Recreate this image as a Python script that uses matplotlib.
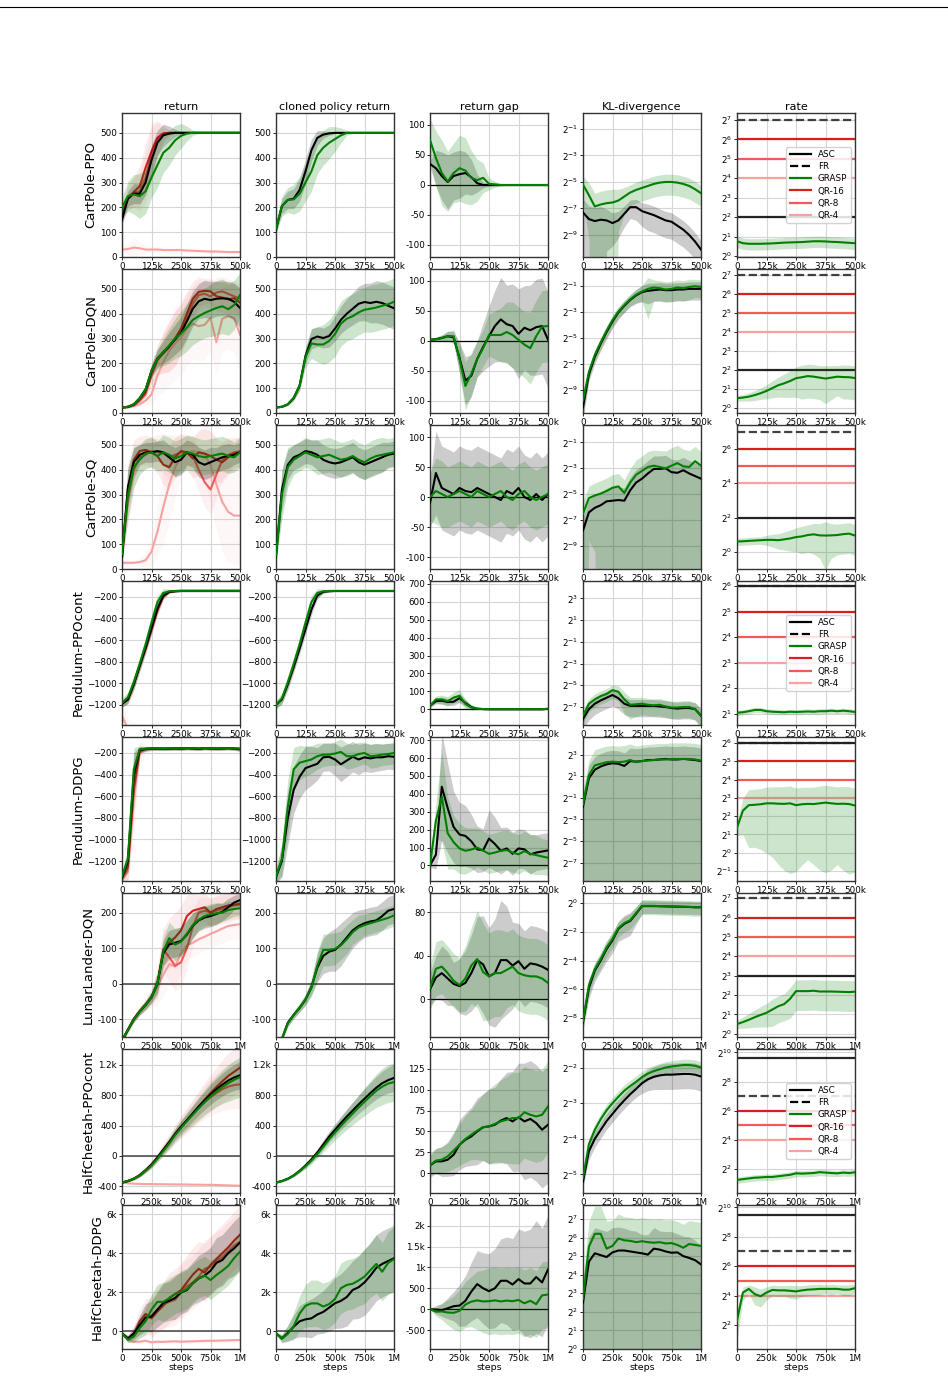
import matplotlib.pyplot as plt
import numpy as np
from matplotlib.lines import Line2D
from matplotlib.ticker import NullLocator

# ---------------- data ----------------
steps_500k = np.linspace(0, 500_000, 21)
steps_1m = np.linspace(0, 1_000_000, 21)
xticks_500k = [0, 125_000, 250_000, 375_000, 500_000]
xlabels_500k = ['0', '125k', '250k', '375k', '500k']
xticks_1m = [0, 250_000, 500_000, 750_000, 1_000_000]
xlabels_1m = ['0', '250k', '500k', '750k', '1M']

col_titles = ['return', 'cloned policy return', 'return gap', 'KL-divergence', 'rate']
env_names = ['CartPole-PPO', 'CartPole-DQN', 'CartPole-SQ', 'Pendulum-PPOcont',
             'Pendulum-DDPG', 'LunarLander-DQN', 'HalfCheetah-PPOcont', 'HalfCheetah-DDPG']
methods = ['ASC', 'FR', 'GRASP', 'QR-16', 'QR-8', 'QR-4']

# tick values / labels
ret_ticks_cp = [0, 100, 200, 300, 400, 500]
ret_labels_cp = ['0', '100', '200', '300', '400', '500']
gap_ticks_cp = [-100, -50, 0, 50, 100]
gap_labels_cp = ['-100', '-50', '0', '50', '100']
ret_ticks_pend = [-1200, -1000, -800, -600, -400, -200]
ret_labels_pend = ['\u22121200', '\u22121000', '\u2212800', '\u2212600', '\u2212400', '\u2212200']
gap_ticks_pend = [0, 100, 200, 300, 400, 500, 600, 700]
gap_labels_pend = ['0', '100', '200', '300', '400', '500', '600', '700']
ret_ticks_lunar = [-100, 0, 100, 200]
ret_labels_lunar = ['-100', '0', '100', '200']
gap_ticks_lunar = [0, 40, 80]
gap_labels_lunar = ['0', '40', '80']
ret_ticks_hcppo = [-400, 0, 400, 800, 1200]
ret_labels_hcppo = ['-400', '0', '400', '800', '1.2k']
gap_ticks_hcppo = [0, 25, 50, 75, 100, 125]
gap_labels_hcppo = ['0', '25', '50', '75', '100', '125']
ret_ticks_hcddpg = [0, 2000, 4000, 6000]
ret_labels_hcddpg = ['0', '2k', '4k', '6k']
gap_ticks_hcddpg = [-500, 0, 500, 1000, 1500, 2000]
gap_labels_hcddpg = ['-500', '0', '500', '1k', '1.5k', '2k']

# KL / rate tick exponents (log2)
kl_ticks_cp = [-9, -7, -5, -3, -1]
kl_ticks_pend = [-7, -5, -3, -1, 1, 3]
kl_ticks_lunar = [-8, -6, -4, -2, 0]
kl_ticks_hcppo = [-5, -4, -3, -2]
kl_ticks_hcddpg = [0, 1, 2, 3, 4, 5, 6, 7]
rate_ticks_0_7 = [0, 1, 2, 3, 4, 5, 6, 7]
rate_ticks_even = [0, 2, 4, 6]
rate_ticks_pend = [1, 2, 3, 4, 5, 6]
rate_ticks_ddpg = [-1, 0, 1, 2, 3, 4, 5, 6]
rate_ticks_hc = [2, 4, 6, 8, 10]

# ---- CartPole-PPO
ppo_ret_asc = [150, 235, 255, 255, 300, 390, 460, 490, 497, 500, 500, 500, 500, 500, 500, 500, 500, 500, 500, 500, 500]
ppo_ret_asc_sd = [20, 30, 40, 40, 50, 60, 50, 45, 30, 15, 5, 0, 0, 0, 0, 0, 0, 0, 0, 0, 0]
ppo_ret_grasp = [200, 245, 252, 245, 265, 320, 370, 420, 440, 470, 488, 497, 500, 500, 500, 500, 500, 500, 500, 500, 500]
ppo_ret_grasp_sd = [40, 60, 80, 90, 90, 80, 90, 80, 70, 60, 50, 30, 10, 3, 0, 0, 0, 0, 0, 0, 0]
ppo_ret_qr16 = [175, 240, 262, 285, 360, 425, 480, 498, 500, 500, 500, 500, 500, 500, 500, 500, 500, 500, 500, 500, 500]
ppo_ret_qr8 = [160, 235, 258, 265, 320, 410, 470, 495, 500, 500, 500, 500, 500, 500, 500, 500, 500, 500, 500, 500, 500]
ppo_ret_qr_sd = [30, 50, 60, 80, 100, 110, 70, 30, 10, 0, 0, 0, 0, 0, 0, 0, 0, 0, 0, 0, 0]
ppo_ret_qr4 = [30, 32, 38, 35, 30, 30, 30, 28, 28, 28, 28, 26, 25, 24, 23, 22, 22, 21, 20, 20, 20]
ppo_ret_qr4_sd = [10, 20, 40, 25, 15, 12, 12, 12, 12, 12, 10, 10, 10, 8, 8, 8, 8, 8, 8, 8, 8]
ppo_clone_asc = [110, 205, 230, 235, 270, 345, 430, 480, 493, 498, 500, 500, 500, 500, 500, 500, 500, 500, 500, 500, 500]
ppo_clone_asc_sd = [15, 30, 35, 40, 45, 50, 45, 30, 15, 8, 3, 0, 0, 0, 0, 0, 0, 0, 0, 0, 0]
ppo_clone_grasp = [115, 205, 230, 232, 255, 300, 345, 410, 440, 460, 475, 490, 500, 500, 500, 500, 500, 500, 500, 500, 500]
ppo_clone_grasp_sd = [20, 40, 50, 60, 70, 75, 80, 75, 70, 65, 50, 30, 10, 3, 0, 0, 0, 0, 0, 0, 0]
ppo_gap_asc = [35, 28, 15, 5, 15, 18, 20, 13, 3, 0, 0, 0, 0, 0, 0, 0, 0, 0, 0, 0, 0]
ppo_gap_asc_sd = [5, 30, 40, 45, 40, 40, 35, 30, 15, 5, 2, 1, 0, 0, 0, 0, 0, 0, 0, 0, 0]
ppo_gap_grasp = [75, 45, 20, 6, 20, 28, 24, 12, 8, 12, 2, 1, 0, 0, 0, 0, 0, 0, 0, 0, 0]
ppo_gap_grasp_sd = [35, 45, 55, 50, 50, 55, 55, 45, 35, 25, 10, 5, 2, 0, 0, 0, 0, 0, 0, 0, 0]
ppo_kl_asc = [-7.3, -7.8, -7.95, -7.85, -7.9, -8.1, -7.9, -7.4, -6.9, -6.9, -7.2, -7.35, -7.5, -7.7, -7.9, -8.0, -8.3, -8.6, -9.0, -9.5, -10.1]
ppo_kl_asc_r = [1.0, 1.0, 1.0, 1.0, 0.8, 0.7, 0.6, 0.5, 0.45, 0.5, 0.55, 0.6, 0.6, 0.6, 0.6, 0.6, 0.6, 0.6, 0.6, 0.6, 0.6]
ppo_kl_grasp = [-5.2, -6.0, -6.85, -6.7, -6.6, -6.55, -6.4, -6.1, -5.8, -5.6, -5.45, -5.3, -5.15, -5.05, -5.0, -5.0, -5.05, -5.15, -5.3, -5.55, -5.85]
ppo_kl_grasp_r = [0.55, 0.9, 1.0, 1.0, 1.0, 1.0, 0.8, 0.6, 0.5, 0.5, 0.5, 0.5, 0.5, 0.5, 0.5, 0.5, 0.5, 0.5, 0.5, 0.5, 0.5]
ppo_rate_grasp = [0.76, 0.66, 0.63, 0.63, 0.63, 0.64, 0.65, 0.67, 0.69, 0.7, 0.71, 0.72, 0.74, 0.76, 0.76, 0.75, 0.73, 0.72, 0.7, 0.68, 0.66]
ppo_rate_grasp_r = [0.2, 0.2, 0.2, 0.2, 0.2, 0.2, 0.2, 0.2, 0.2, 0.2, 0.2, 0.2, 0.2, 0.2, 0.2, 0.2, 0.2, 0.2, 0.2, 0.2, 0.2]
ppo_rate_levels = [2, 7, 6, 5, 4]  # ASC, FR, QR-16, QR-8, QR-4 (log2)

# ---- CartPole-DQN
dqn_ret_asc = [22, 25, 35, 60, 95, 170, 220, 245, 270, 296, 323, 370, 420, 450, 460, 455, 460, 462, 460, 448, 423]
dqn_ret_asc_sd = [3, 4, 6, 10, 15, 25, 35, 45, 55, 60, 65, 70, 70, 70, 75, 75, 70, 70, 70, 75, 80]
dqn_ret_grasp = [22, 25, 35, 60, 95, 170, 218, 245, 272, 300, 320, 345, 375, 390, 403, 413, 423, 430, 418, 435, 475]
dqn_ret_grasp_sd = [3, 4, 6, 10, 15, 25, 40, 55, 70, 80, 90, 95, 100, 100, 100, 105, 110, 110, 105, 100, 90]
dqn_ret_qr16 = [22, 25, 33, 55, 85, 160, 215, 240, 265, 300, 340, 400, 460, 488, 492, 490, 470, 465, 458, 462, 445]
dqn_ret_qr8 = [22, 24, 30, 48, 75, 150, 210, 245, 270, 300, 335, 380, 440, 475, 480, 470, 485, 490, 480, 470, 460]
dqn_ret_qr_sd = [3, 4, 6, 10, 20, 40, 60, 80, 100, 110, 100, 90, 70, 60, 50, 50, 60, 60, 60, 60, 60]
dqn_ret_qr4 = [22, 23, 28, 35, 50, 75, 150, 205, 250, 280, 305, 340, 360, 350, 355, 383, 285, 380, 390, 383, 315]
dqn_ret_qr4_sd = [3, 4, 6, 10, 20, 40, 80, 120, 140, 150, 150, 150, 140, 140, 140, 130, 130, 130, 130, 140, 150]
dqn_clone_asc = [22, 25, 35, 60, 110, 230, 298, 308, 302, 310, 340, 375, 400, 420, 440, 447, 443, 448, 443, 432, 422]
dqn_clone_asc_sd = [2, 3, 5, 10, 20, 30, 40, 40, 40, 45, 50, 55, 60, 65, 70, 75, 80, 85, 85, 85, 85]
dqn_clone_grasp = [22, 25, 35, 62, 110, 225, 280, 276, 276, 290, 318, 360, 380, 390, 405, 416, 420, 425, 432, 438, 448]
dqn_clone_grasp_sd = [2, 3, 5, 10, 20, 40, 60, 70, 80, 85, 90, 90, 90, 90, 90, 90, 95, 95, 95, 95, 95]
dqn_gap_asc = [2, 3, 5, 8, 6, -28, -66, -58, -30, -10, 8, 25, 36, 28, 25, 12, 22, 18, 23, 25, 2]
dqn_gap_asc_sd = [2, 3, 5, 8, 10, 25, 40, 35, 30, 40, 50, 60, 70, 65, 70, 75, 70, 75, 80, 80, 80]
dqn_gap_grasp = [2, 3, 5, 8, 8, -30, -75, -55, -30, -12, 10, 10, 10, 15, 10, 2, -6, -12, 8, 24, 25]
dqn_gap_grasp_sd = [2, 3, 5, 8, 10, 25, 40, 35, 30, 30, 35, 40, 45, 50, 55, 55, 55, 60, 60, 60, 60]
dqn_kl_asc = [-10.3, -7.8, -6.45, -5.45, -4.55, -3.75, -3.05, -2.55, -2.1, -1.75, -1.5, -1.4, -1.35, -1.3, -1.35, -1.35, -1.3, -1.3, -1.25, -1.25, -1.25]
dqn_kl_asc_r = [0.5, 0.3, 0.3, 0.3, 0.3, 0.3, 0.3, 0.3, 0.3, 0.35, 0.4, 0.5, 0.45, 0.45, 0.45, 0.45, 0.45, 0.45, 0.45, 0.45, 0.45]
dqn_kl_grasp = [-9.8, -7.6, -6.3, -5.35, -4.45, -3.65, -3.0, -2.5, -2.05, -1.7, -1.45, -1.25, -1.15, -1.2, -1.3, -1.25, -1.15, -1.2, -1.1, -1.05, -1.1]
dqn_kl_grasp_r = [0.5, 0.3, 0.3, 0.3, 0.3, 0.3, 0.3, 0.3, 0.3, 0.35, 0.4, 0.8, 0.5, 0.5, 0.5, 0.5, 0.5, 0.5, 0.5, 0.45, 0.45]
dqn_rate_grasp = [0.52, 0.55, 0.6, 0.68, 0.78, 0.9, 1.05, 1.2, 1.3, 1.42, 1.57, 1.62, 1.68, 1.65, 1.6, 1.55, 1.6, 1.65, 1.63, 1.62, 1.58]
dqn_rate_grasp_r = [0.1, 0.12, 0.15, 0.18, 0.2, 0.25, 0.3, 0.35, 0.4, 0.45, 0.5, 0.55, 0.55, 0.55, 0.55, 0.6, 0.55, 0.5, 0.55, 0.55, 0.55]
dqn_rate_levels = [2, 7, 6, 5, 4]

# ---- CartPole-SQ
sq_ret_asc = [50, 330, 430, 460, 470, 470, 475, 470, 450, 430, 440, 470, 460, 430, 420, 430, 440, 450, 455, 460, 470]
sq_ret_asc_sd = [20, 80, 60, 40, 40, 40, 40, 50, 50, 60, 60, 50, 50, 60, 60, 60, 50, 50, 50, 40, 40]
sq_ret_grasp = [60, 300, 410, 440, 465, 470, 455, 470, 460, 445, 455, 470, 465, 455, 450, 455, 460, 465, 455, 450, 470]
sq_ret_grasp_sd = [30, 100, 80, 60, 60, 60, 60, 70, 70, 70, 70, 70, 70, 70, 70, 70, 70, 70, 70, 60, 60]
sq_ret_qr16 = [50, 320, 440, 475, 480, 470, 455, 420, 410, 450, 475, 470, 445, 470, 465, 455, 440, 430, 450, 465, 470]
sq_ret_qr8 = [45, 280, 400, 450, 460, 475, 470, 465, 450, 460, 470, 465, 455, 400, 350, 320, 380, 440, 460, 470, 475]
sq_ret_qr_sd = [20, 100, 80, 60, 60, 60, 70, 80, 90, 80, 70, 70, 80, 90, 100, 100, 90, 80, 70, 60, 60]
sq_ret_qr4 = [25, 25, 25, 28, 35, 70, 150, 250, 340, 410, 450, 470, 475, 470, 460, 420, 340, 270, 230, 215, 215]
sq_ret_qr4_sd = [10, 10, 10, 15, 30, 60, 100, 150, 150, 120, 80, 60, 60, 80, 120, 150, 180, 200, 200, 200, 200]
sq_clone_asc = [50, 320, 420, 450, 460, 475, 470, 460, 440, 430, 425, 430, 440, 450, 430, 420, 430, 440, 450, 460, 465]
sq_clone_asc_sd = [20, 80, 60, 50, 50, 50, 50, 60, 60, 60, 60, 60, 60, 60, 60, 60, 60, 60, 60, 50, 50]
sq_clone_grasp = [55, 300, 410, 440, 455, 470, 460, 450, 455, 460, 450, 440, 445, 455, 440, 430, 445, 455, 460, 465, 470]
sq_clone_grasp_sd = [30, 100, 80, 60, 60, 60, 60, 70, 70, 70, 70, 70, 70, 70, 70, 70, 70, 70, 70, 60, 60]
sq_gap_asc = [-10, 40, 15, 10, 5, 15, 10, 8, 15, 10, 5, 0, -5, 10, 5, 15, 0, -5, 5, -5, 5]
sq_gap_asc_sd = [40, 70, 70, 70, 70, 70, 70, 70, 70, 70, 70, 70, 70, 70, 70, 70, 70, 70, 70, 70, 70]
sq_gap_grasp = [0, 10, 5, 0, 5, 10, 5, 0, 10, 5, 0, 5, 10, 0, -5, 5, 10, 0, -5, 0, 5]
sq_gap_grasp_sd = [40, 55, 55, 50, 50, 50, 50, 50, 50, 50, 50, 50, 50, 50, 50, 50, 50, 50, 50, 50, 50]
sq_kl_asc = [-7.8, -6.4, -6.05, -5.85, -5.55, -5.5, -5.45, -5.5, -4.7, -4.1, -3.8, -3.4, -3.05, -3.05, -3.0, -3.3, -3.35, -3.15, -3.4, -3.6, -3.8]
sq_kl_asc_r = [1.0, 1.0, 1.0, 1.0, 1.0, 1.0, 1.0, 1.0, 1.0, 1.0, 1.0, 1.0, 1.0, 1.0, 1.0, 1.0, 1.0, 1.0, 1.0, 1.0, 1.0]
sq_kl_grasp = [-6.5, -5.3, -5.1, -4.95, -4.75, -4.5, -4.4, -4.9, -4.1, -3.5, -3.2, -2.9, -2.8, -2.9, -3.0, -2.8, -2.6, -2.85, -2.9, -2.45, -2.8]
sq_kl_grasp_r = [1.0, 0.9, 0.95, 1.0, 1.0, 1.0, 1.0, 1.0, 1.1, 1.2, 1.2, 1.3, 1.3, 1.4, 1.5, 1.6, 1.6, 1.5, 1.4, 1.2, 1.1]
sq_rate_grasp = [0.62, 0.64, 0.66, 0.68, 0.7, 0.72, 0.72, 0.7, 0.75, 0.8, 0.88, 0.92, 1.0, 1.04, 0.98, 0.97, 0.98, 1.0, 1.05, 1.08, 0.97]
sq_rate_grasp_r = [0.15, 0.15, 0.15, 0.15, 0.15, 0.2, 0.25, 0.3, 0.35, 0.4, 0.45, 0.5, 0.5, 0.55, 0.6, 0.75, 0.6, 0.55, 0.55, 0.55, 0.55]
sq_rate_levels = [2, 7, 6, 5, 4]

# ---- Pendulum-PPOcont
pend_ret_asc = [-1190, -1150, -1010, -840, -670, -490, -310, -190, -155, -150, -148, -148, -148, -148, -148, -148, -148, -148, -148, -148, -148]
pend_ret_asc_sd = [30, 40, 50, 50, 50, 50, 50, 30, 10, 5, 3, 3, 3, 3, 3, 3, 3, 3, 3, 3, 3]
pend_ret_grasp = [-1180, -1130, -990, -820, -640, -440, -250, -165, -150, -147, -146, -146, -146, -146, -146, -146, -146, -146, -146, -146, -146]
pend_ret_grasp_sd = [40, 50, 60, 60, 60, 60, 60, 40, 20, 10, 5, 5, 5, 5, 5, 5, 5, 5, 5, 5, 5]
pend_ret_qr16 = [-1185, -1145, -1000, -830, -680, -500, -320, -195, -155, -148, -145, -145, -145, -145, -145, -145, -145, -145, -145, -145, -145]
pend_ret_qr8 = [-1190, -1150, -1010, -845, -685, -510, -330, -200, -158, -150, -147, -147, -147, -147, -147, -147, -147, -147, -147, -147, -147]
pend_ret_qr_sd = [30, 40, 50, 50, 50, 50, 50, 30, 10, 5, 5, 5, 5, 5, 5, 5, 5, 5, 5, 5, 5]
pend_ret_qr4 = [-1300, -1420, -1460, -1470, -1475, -1480, -1480, -1480, -1480, -1480, -1480, -1480, -1480, -1480, -1480, -1480, -1480, -1480, -1480, -1480, -1480]
pend_ret_qr4_sd = [80, 100, 100, 100, 100, 100, 100, 100, 100, 100, 100, 100, 100, 100, 100, 100, 100, 100, 100, 100, 100]
pend_clone_asc = [-1200, -1150, -1010, -850, -680, -500, -320, -190, -155, -150, -148, -148, -148, -148, -148, -148, -148, -148, -148, -148, -148]
pend_clone_asc_sd = [30, 40, 50, 50, 50, 50, 50, 30, 10, 5, 3, 3, 3, 3, 3, 3, 3, 3, 3, 3, 3]
pend_clone_grasp = [-1200, -1140, -990, -820, -640, -440, -250, -165, -150, -147, -146, -146, -146, -146, -146, -146, -146, -146, -146, -146, -146]
pend_clone_grasp_sd = [40, 50, 60, 60, 60, 60, 60, 40, 20, 10, 5, 5, 5, 5, 5, 5, 5, 5, 5, 5, 5]
pend_gap_asc = [20, 45, 48, 40, 42, 62, 35, 12, 3, 1, 0, 0, 0, 0, 0, 0, 0, 0, 0, 0, 2]
pend_gap_asc_sd = [10, 15, 20, 20, 20, 25, 20, 10, 5, 3, 2, 2, 2, 2, 2, 2, 2, 2, 2, 2, 3]
pend_gap_grasp = [20, 55, 55, 45, 65, 75, 30, 10, 3, 1, 0, 0, 0, 0, 0, 0, 0, 0, 0, 0, 3]
pend_gap_grasp_sd = [10, 20, 25, 25, 30, 35, 25, 15, 6, 3, 2, 2, 2, 2, 2, 2, 2, 2, 2, 2, 3]
pend_kl_asc = [-8.1, -7.2, -6.7, -6.4, -6.15, -5.9, -6.2, -6.7, -6.9, -6.9, -6.9, -6.9, -6.9, -6.95, -7.0, -7.1, -7.15, -7.1, -7.1, -7.2, -7.8]
pend_kl_asc_r = [0.5, 0.5, 0.5, 0.5, 0.5, 0.5, 0.5, 0.5, 0.5, 0.5, 0.5, 0.5, 0.5, 0.5, 0.5, 0.5, 0.5, 0.5, 0.5, 0.5, 0.5]
pend_kl_grasp = [-7.8, -6.7, -6.3, -6.0, -5.8, -5.45, -5.6, -6.3, -6.8, -6.75, -6.7, -6.8, -6.85, -6.8, -6.95, -7.05, -7.05, -7.0, -7.0, -7.2, -7.8]
pend_kl_grasp_r = [0.4, 0.4, 0.4, 0.4, 0.4, 0.4, 0.45, 0.6, 0.6, 0.55, 0.5, 0.5, 0.5, 0.5, 0.5, 0.5, 0.5, 0.5, 0.5, 0.5, 0.6]
pend_rate_grasp = [1.04, 1.06, 1.1, 1.15, 1.15, 1.1, 1.08, 1.07, 1.06, 1.08, 1.07, 1.08, 1.09, 1.08, 1.1, 1.1, 1.12, 1.1, 1.12, 1.1, 1.07]
pend_rate_grasp_r = [0.07, 0.07, 0.07, 0.07, 0.07, 0.07, 0.07, 0.07, 0.07, 0.07, 0.07, 0.07, 0.07, 0.07, 0.07, 0.07, 0.07, 0.07, 0.07, 0.07, 0.07]
pend_rate_levels = [6, 6, 5, 4, 3]

# ---- Pendulum-DDPG
ddpg_ret_asc = [-1350, -1200, -400, -170, -165, -160, -160, -162, -160, -158, -160, -155, -158, -162, -155, -158, -160, -158, -155, -160, -165]
ddpg_ret_asc_sd = [40, 100, 200, 30, 20, 15, 15, 15, 15, 15, 15, 15, 15, 15, 15, 15, 15, 15, 15, 15, 20]
ddpg_ret_grasp = [-1340, -1180, -350, -165, -160, -158, -158, -160, -158, -156, -158, -155, -156, -158, -155, -156, -158, -156, -155, -158, -160]
ddpg_ret_grasp_sd = [40, 100, 200, 30, 20, 15, 15, 15, 15, 15, 15, 15, 15, 15, 15, 15, 15, 15, 15, 15, 20]
ddpg_ret_qr16 = [-1360, -1250, -500, -180, -160, -158, -160, -158, -160, -156, -158, -155, -158, -160, -155, -158, -160, -158, -155, -158, -162]
ddpg_ret_qr8 = [-1360, -1260, -550, -190, -162, -160, -158, -160, -157, -158, -160, -156, -157, -160, -158, -157, -158, -160, -157, -160, -163]
ddpg_ret_qr_sd = [40, 120, 250, 40, 20, 15, 15, 15, 15, 15, 15, 15, 15, 15, 15, 15, 15, 15, 15, 15, 20]
ddpg_ret_qr4 = [-1370, -1300, -650, -200, -165, -160, -160, -158, -160, -158, -157, -160, -158, -157, -160, -158, -160, -157, -158, -160, -162]
ddpg_ret_qr4_sd = [50, 150, 350, 100, 40, 20, 20, 20, 20, 20, 20, 20, 20, 20, 20, 20, 20, 20, 20, 20, 20]
ddpg_clone_asc = [-1350, -1200, -800, -540, -420, -340, -320, -300, -240, -235, -260, -305, -270, -235, -260, -240, -250, -240, -240, -230, -235]
ddpg_clone_asc_sd = [60, 150, 250, 220, 200, 200, 180, 150, 130, 130, 150, 160, 150, 140, 140, 130, 130, 130, 120, 120, 120]
ddpg_clone_grasp = [-1340, -1180, -700, -350, -290, -275, -260, -230, -215, -215, -205, -190, -230, -230, -210, -200, -230, -225, -215, -210, -200]
ddpg_clone_grasp_sd = [60, 150, 250, 200, 160, 140, 130, 120, 110, 100, 110, 120, 120, 110, 110, 100, 110, 110, 100, 100, 100]
ddpg_gap_asc = [0, 60, 440, 320, 215, 173, 165, 135, 90, 85, 150, 120, 82, 95, 65, 95, 90, 62, 72, 78, 84]
ddpg_gap_asc_sd = [10, 80, 300, 250, 200, 180, 170, 150, 130, 120, 160, 150, 130, 120, 120, 110, 110, 110, 100, 100, 100]
ddpg_gap_grasp = [0, 250, 385, 180, 130, 95, 82, 89, 100, 83, 65, 72, 82, 86, 72, 62, 80, 65, 58, 50, 43]
ddpg_gap_grasp_sd = [10, 100, 250, 200, 150, 140, 130, 120, 110, 110, 110, 110, 110, 110, 110, 110, 110, 110, 110, 100, 100]
ddpg_kl_asc = [-1.8, 0.8, 1.6, 1.9, 2.1, 2.2, 2.15, 1.95, 2.4, 2.35, 2.4, 2.5, 2.5, 2.55, 2.6, 2.55, 2.55, 2.6, 2.55, 2.5, 2.4]
ddpg_kl_asc_r = [1.3, 1.3, 1.3, 1.3, 1.3, 1.3, 1.3, 1.3, 1.3, 1.3, 1.3, 1.3, 1.3, 1.3, 1.3, 1.3, 1.3, 1.3, 1.3, 1.3, 1.3]
ddpg_kl_grasp = [-1.6, 1.1, 2.0, 2.15, 2.3, 2.35, 2.3, 2.35, 2.5, 2.3, 2.4, 2.45, 2.5, 2.55, 2.55, 2.6, 2.6, 2.6, 2.6, 2.55, 2.45]
ddpg_kl_grasp_r = [1.5, 1.6, 1.7, 1.8, 1.8, 1.8, 1.8, 1.8, 1.8, 1.8, 1.8, 1.8, 1.8, 1.8, 1.8, 1.8, 1.8, 1.8, 1.8, 1.8, 1.8]
ddpg_rate_grasp = [1.36, 2.3, 2.6, 2.62, 2.65, 2.7, 2.7, 2.68, 2.67, 2.7, 2.6, 2.65, 2.67, 2.66, 2.7, 2.74, 2.7, 2.67, 2.68, 2.66, 2.58]
ddpg_rate_grasp_r = [0.25, 0.6, 0.8, 0.8, 0.82, 0.85, 0.87, 0.9, 0.92, 0.93, 0.92, 0.9, 0.88, 0.9, 0.92, 0.93, 0.92, 0.9, 0.92, 0.93, 0.92]
ddpg_rate_levels = [6, 6, 5, 4, 3]

# ---- LunarLander-DQN
lunar_ret_asc = [-160, -130, -100, -78, -60, -38, 0, 85, 110, 115, 120, 138, 163, 178, 186, 190, 196, 202, 215, 228, 235]
lunar_ret_asc_sd = [5, 5, 8, 10, 12, 15, 25, 35, 40, 40, 40, 40, 35, 30, 30, 30, 30, 25, 25, 20, 20]
lunar_ret_grasp = [-160, -130, -100, -78, -60, -38, 0, 90, 128, 110, 118, 140, 165, 180, 190, 195, 198, 200, 207, 210, 212]
lunar_ret_grasp_sd = [5, 5, 8, 10, 12, 15, 30, 40, 45, 45, 40, 40, 35, 30, 30, 30, 30, 25, 25, 20, 20]
lunar_ret_qr16 = [-160, -130, -100, -78, -60, -38, 0, 95, 115, 130, 150, 190, 205, 210, 215, 200, 210, 215, 220, 222, 225]
lunar_ret_qr8 = [-160, -130, -100, -78, -60, -38, 0, 95, 75, 50, 60, 100, 160, 200, 205, 200, 205, 210, 215, 220, 222]
lunar_ret_qr_sd = [10, 10, 10, 10, 15, 20, 40, 60, 70, 70, 70, 60, 50, 40, 40, 40, 40, 40, 40, 40, 40]
lunar_ret_qr4 = [-160, -128, -98, -76, -58, -38, -10, 25, 55, 48, 85, 108, 115, 125, 132, 140, 147, 155, 162, 165, 167]
lunar_ret_qr4_sd = [10, 10, 10, 15, 20, 30, 50, 60, 60, 60, 50, 40, 40, 40, 40, 40, 40, 40, 40, 40, 40]
lunar_clone_asc = [-175, -155, -110, -88, -68, -45, -10, 45, 78, 90, 95, 110, 130, 150, 162, 170, 175, 178, 190, 205, 210]
lunar_clone_asc_sd = [5, 8, 10, 10, 12, 15, 20, 40, 50, 55, 60, 60, 55, 50, 45, 40, 40, 40, 40, 40, 40]
lunar_clone_grasp = [-175, -155, -112, -88, -68, -45, -12, 50, 95, 95, 98, 108, 125, 145, 158, 165, 170, 175, 180, 185, 192]
lunar_clone_grasp_sd = [5, 8, 10, 10, 12, 15, 25, 40, 45, 45, 45, 40, 40, 35, 35, 30, 30, 30, 30, 30, 30]
lunar_gap_asc = [9, 20, 24, 19, 14, 12, 15, 24, 36, 32, 21, 24, 36, 36, 31, 35, 28, 33, 32, 30, 27]
lunar_gap_asc_sd = [15, 20, 25, 25, 20, 25, 30, 35, 40, 45, 45, 50, 55, 50, 40, 35, 35, 35, 35, 35, 35]
lunar_gap_grasp = [10, 28, 30, 24, 17, 13, 19, 31, 37, 25, 21, 24, 24, 27, 30, 24, 22, 21, 21, 19, 15]
lunar_gap_grasp_sd = [20, 25, 25, 25, 25, 25, 30, 35, 45, 45, 40, 40, 40, 35, 35, 35, 35, 35, 35, 35, 35]
lunar_kl_asc = [-8.3, -5.9, -4.7, -4.0, -3.2, -2.6, -1.8, -1.45, -1.25, -0.75, -0.22, -0.22, -0.22, -0.23, -0.24, -0.25, -0.26, -0.27, -0.28, -0.3, -0.3]
lunar_kl_asc_r = [0.3, 0.4, 0.4, 0.4, 0.45, 0.45, 0.45, 0.5, 0.5, 0.4, 0.3, 0.3, 0.3, 0.3, 0.3, 0.3, 0.3, 0.3, 0.3, 0.3, 0.3]
lunar_kl_grasp = [-8.2, -5.7, -4.6, -3.9, -3.1, -2.5, -1.75, -1.4, -1.2, -0.7, -0.2, -0.2, -0.2, -0.22, -0.23, -0.24, -0.25, -0.26, -0.27, -0.3, -0.3]
lunar_kl_grasp_r = [0.3, 0.35, 0.35, 0.35, 0.35, 0.35, 0.35, 0.35, 0.35, 0.35, 0.35, 0.35, 0.35, 0.35, 0.35, 0.35, 0.35, 0.35, 0.35, 0.35, 0.35]
lunar_rate_grasp = [0.5, 0.6, 0.72, 0.85, 0.97, 1.08, 1.25, 1.42, 1.53, 1.8, 2.2, 2.2, 2.2, 2.22, 2.18, 2.18, 2.18, 2.17, 2.16, 2.15, 2.17]
lunar_rate_grasp_r = [0.15, 0.2, 0.25, 0.3, 0.35, 0.4, 0.45, 0.45, 0.45, 0.5, 0.5, 0.5, 0.5, 0.5, 0.5, 0.5, 0.5, 0.5, 0.5, 0.5, 0.5]
lunar_rate_levels = [3, 7, 6, 5, 4]

# ---- HalfCheetah-PPOcont
hcppo_ret_asc = [-350, -330, -300, -255, -190, -115, -20, 80, 180, 290, 385, 470, 560, 650, 730, 810, 880, 940, 995, 1035, 1065]
hcppo_ret_asc_sd = [10, 12, 15, 20, 25, 30, 40, 50, 60, 70, 80, 90, 100, 110, 120, 130, 140, 150, 160, 170, 180]
hcppo_ret_grasp = [-350, -330, -300, -258, -195, -125, -35, 65, 165, 275, 370, 460, 545, 630, 710, 785, 850, 910, 960, 1005, 1040]
hcppo_ret_grasp_sd = [10, 12, 15, 20, 25, 35, 45, 55, 70, 85, 100, 115, 130, 150, 165, 185, 200, 220, 240, 255, 265]
hcppo_ret_qr16 = [-350, -330, -300, -250, -185, -110, -20, 85, 185, 290, 385, 475, 565, 655, 745, 830, 910, 985, 1055, 1110, 1165]
hcppo_ret_qr8 = [-350, -330, -300, -255, -190, -120, -25, 75, 175, 280, 375, 465, 550, 635, 710, 775, 830, 880, 915, 935, 945]
hcppo_ret_qr_sd = [10, 15, 20, 30, 40, 50, 60, 80, 100, 120, 140, 160, 180, 200, 220, 240, 260, 280, 300, 310, 320]
hcppo_ret_qr4 = [-350, -360, -365, -368, -370, -370, -372, -372, -374, -375, -375, -376, -378, -378, -380, -380, -382, -385, -388, -390, -392]
hcppo_ret_qr4_sd = [15, 15, 15, 15, 15, 15, 15, 15, 15, 15, 15, 15, 15, 15, 15, 15, 15, 15, 15, 15, 15]
hcppo_clone_asc = [-350, -330, -300, -255, -195, -125, -45, 45, 150, 255, 345, 435, 520, 600, 680, 755, 830, 900, 960, 1000, 1030]
hcppo_clone_asc_sd = [10, 12, 15, 20, 25, 30, 40, 50, 60, 70, 80, 90, 100, 110, 120, 130, 140, 150, 160, 170, 180]
hcppo_clone_grasp = [-350, -330, -300, -258, -200, -135, -60, 25, 120, 220, 310, 395, 480, 560, 640, 715, 790, 860, 915, 955, 975]
hcppo_clone_grasp_sd = [10, 12, 15, 20, 25, 35, 45, 55, 70, 85, 100, 115, 130, 150, 165, 185, 200, 220, 240, 250, 250]
hcppo_gap_asc = [9, 14, 14, 16, 22, 34, 40, 44, 50, 55, 56, 58, 63, 66, 62, 67, 62, 65, 60, 52, 58]
hcppo_gap_asc_sd = [12, 15, 18, 20, 25, 30, 32, 35, 40, 40, 45, 45, 50, 55, 60, 65, 70, 70, 70, 70, 70]
hcppo_gap_grasp = [9, 15, 16, 20, 27, 34, 41, 46, 51, 55, 56, 59, 62, 64, 66, 66, 73, 70, 68, 70, 80]
hcppo_gap_grasp_sd = [15, 15, 15, 18, 22, 25, 28, 30, 35, 40, 45, 48, 50, 52, 55, 55, 55, 55, 55, 55, 55]
hcppo_kl_asc = [-5.2, -4.35, -4.0, -3.75, -3.5, -3.3, -3.1, -2.92, -2.75, -2.6, -2.44, -2.33, -2.26, -2.22, -2.2, -2.2, -2.19, -2.18, -2.18, -2.2, -2.25]
hcppo_kl_asc_r = [0.1, 0.15, 0.15, 0.15, 0.15, 0.15, 0.15, 0.15, 0.15, 0.15, 0.18, 0.2, 0.22, 0.24, 0.25, 0.25, 0.25, 0.25, 0.25, 0.25, 0.25]
hcppo_kl_grasp = [-5.1, -4.15, -3.75, -3.45, -3.2, -3.0, -2.82, -2.65, -2.52, -2.4, -2.27, -2.17, -2.1, -2.05, -2.0, -1.97, -1.95, -1.93, -1.93, -1.95, -2.0]
hcppo_kl_grasp_r = [0.1, 0.12, 0.12, 0.12, 0.12, 0.12, 0.12, 0.12, 0.12, 0.12, 0.12, 0.12, 0.12, 0.12, 0.12, 0.12, 0.12, 0.12, 0.12, 0.12, 0.12]
hcppo_rate_grasp = [1.24, 1.3, 1.35, 1.4, 1.42, 1.45, 1.45, 1.5, 1.55, 1.6, 1.7, 1.68, 1.7, 1.72, 1.78, 1.75, 1.72, 1.7, 1.75, 1.72, 1.77]
hcppo_rate_grasp_r = [0.15, 0.15, 0.15, 0.15, 0.15, 0.15, 0.15, 0.15, 0.15, 0.15, 0.15, 0.15, 0.15, 0.15, 0.15, 0.15, 0.15, 0.15, 0.15, 0.15, 0.15]
hcppo_rate_levels = [9.6, 7, 6, 5, 4]

# ---- HalfCheetah-DDPG
hcddpg_ret_asc = [-120, -380, -120, 310, 700, 740, 1100, 1450, 1550, 1700, 1980, 2110, 2450, 2700, 2850, 3100, 3500, 3650, 4000, 4250, 4550]
hcddpg_ret_asc_sd = [50, 150, 300, 500, 700, 800, 900, 1000, 1000, 1100, 1100, 1100, 1100, 1200, 1200, 1200, 1300, 1300, 1300, 1400, 1400]
hcddpg_ret_grasp = [-120, -450, -290, 150, 500, 1100, 1500, 1500, 1680, 1900, 2000, 2150, 2450, 2700, 2850, 2620, 2880, 3100, 3350, 3750, 4080]
hcddpg_ret_grasp_sd = [50, 150, 300, 500, 700, 800, 900, 1000, 1000, 1000, 1000, 1000, 1000, 1000, 1000, 1000, 1000, 1000, 1000, 1000, 1000]
hcddpg_ret_qr16 = [-120, -400, -150, 500, 880, 650, 1000, 1300, 1700, 1900, 2100, 2500, 2900, 3200, 3000, 3400, 3700, 4000, 4300, 4650, 4950]
hcddpg_ret_qr8 = [-120, -380, -200, 200, 600, 800, 1100, 1350, 1500, 1600, 2000, 2300, 2500, 2800, 3200, 3300, 3600, 3800, 4100, 4400, 4600]
hcddpg_ret_qr_sd = [100, 200, 400, 600, 800, 1000, 1100, 1200, 1300, 1300, 1400, 1400, 1400, 1400, 1500, 1500, 1500, 1500, 1500, 1500, 1500]
hcddpg_ret_qr4 = [-120, -450, -550, -550, -500, -580, -550, -560, -540, -530, -550, -540, -530, -520, -510, -500, -500, -490, -480, -470, -460]
hcddpg_ret_qr4_sd = [50, 80, 100, 100, 100, 100, 100, 100, 100, 100, 100, 100, 100, 100, 100, 100, 100, 100, 100, 100, 100]
hcddpg_clone_asc = [-120, -380, -100, 220, 500, 600, 650, 850, 980, 1200, 1430, 1550, 1750, 2110, 2250, 2500, 2850, 3250, 3450, 3600, 3740]
hcddpg_clone_asc_sd = [50, 200, 400, 600, 800, 900, 1000, 1000, 1100, 1200, 1300, 1400, 1500, 1500, 1600, 1700, 1700, 1700, 1700, 1700, 1700]
hcddpg_clone_grasp = [-120, -400, -150, 250, 900, 1300, 1420, 1420, 1260, 1380, 1650, 2200, 2370, 2430, 2600, 2800, 3130, 3450, 3050, 3500, 3690]
hcddpg_clone_grasp_sd = [50, 200, 400, 700, 900, 1100, 1200, 1200, 1200, 1200, 1200, 1300, 1300, 1300, 1300, 1400, 1400, 1500, 1500, 1600, 1700]
hcddpg_gap_asc = [0, -10, -24, 20, 70, 85, 200, 420, 600, 500, 430, 500, 680, 680, 590, 720, 615, 615, 770, 640, 950]
hcddpg_gap_asc_sd = [10, 100, 150, 250, 350, 500, 600, 700, 800, 850, 900, 950, 1000, 1050, 1100, 1200, 1250, 1300, 1350, 1300, 1300]
hcddpg_gap_grasp = [0, -60, -55, -80, -88, -40, 110, 180, 210, 185, 190, 210, 185, 205, 190, 220, 140, 200, 120, 330, 350]
hcddpg_gap_grasp_sd = [10, 100, 200, 300, 400, 500, 550, 600, 700, 750, 800, 800, 800, 800, 800, 800, 800, 800, 800, 800, 800]
hcddpg_kl_asc = [2.5, 4.7, 5.15, 5.05, 4.95, 5.2, 5.3, 5.3, 5.25, 5.2, 5.15, 5.08, 5.4, 5.35, 5.25, 5.18, 5.2, 5.0, 4.9, 4.78, 4.55]
hcddpg_kl_asc_r = [1.1, 1.5, 1.6, 1.6, 1.6, 1.5, 1.4, 1.3, 1.2, 1.2, 1.0, 1.1, 1.2, 1.0, 1.1, 1.2, 1.0, 1.1, 1.2, 1.1, 1.0]
hcddpg_kl_grasp = [2.7, 5.5, 6.2, 6.2, 5.4, 5.55, 5.95, 5.85, 5.82, 5.75, 5.8, 5.75, 5.72, 5.75, 5.68, 5.7, 5.6, 5.45, 5.65, 5.6, 5.55]
hcddpg_kl_grasp_r = [1.2, 1.6, 1.8, 1.8, 1.8, 1.6, 1.5, 1.4, 1.4, 1.4, 1.4, 1.4, 1.4, 1.4, 1.4, 1.4, 1.4, 1.4, 1.4, 1.4, 1.4]
hcddpg_rate_grasp = [2.3, 4.2, 4.45, 4.1, 3.95, 4.2, 4.38, 4.35, 4.35, 4.32, 4.28, 4.35, 4.4, 4.42, 4.45, 4.45, 4.45, 4.45, 4.4, 4.4, 4.5]
hcddpg_rate_grasp_r = [0.6, 0.3, 0.2, 0.4, 0.4, 0.3, 0.25, 0.25, 0.25, 0.3, 0.3, 0.25, 0.25, 0.25, 0.25, 0.2, 0.25, 0.2, 0.25, 0.25, 0.2]
hcddpg_rate_levels = [9.5, 7, 6, 5, 4]

# ---------------- styling ----------------
C_ASC, C_GRASP = 'black', 'green'
C_QR16, C_QR8, C_QR4 = '#d81e1e', '#f25a5a', '#f7a1a1'
W, H = 948, 1378
col_left = [122, 276, 430, 583, 737]
row_top = [113, 269, 425, 581, 737, 893, 1049, 1205]
AX_W, AX_H = 118, 144

rows = [
    dict(x=steps_500k, long=False,
         ret=[(ppo_ret_asc, ppo_ret_asc_sd, C_ASC), (ppo_ret_grasp, ppo_ret_grasp_sd, C_GRASP)],
         qr=[(ppo_ret_qr4, ppo_ret_qr4_sd, C_QR4), (ppo_ret_qr8, ppo_ret_qr_sd, C_QR8), (ppo_ret_qr16, ppo_ret_qr_sd, C_QR16)],
         clone=[(ppo_clone_asc, ppo_clone_asc_sd, C_ASC), (ppo_clone_grasp, ppo_clone_grasp_sd, C_GRASP)],
         gap=[(ppo_gap_asc, ppo_gap_asc_sd, C_ASC), (ppo_gap_grasp, ppo_gap_grasp_sd, C_GRASP)],
         kl=[(ppo_kl_asc, ppo_kl_asc_r, C_ASC), (ppo_kl_grasp, ppo_kl_grasp_r, C_GRASP)],
         rate=(ppo_rate_grasp, ppo_rate_grasp_r), levels=ppo_rate_levels,
         ret_lim=(0, 580), ret_t=(ret_ticks_cp, ret_labels_cp), gap_lim=(-120, 120), gap_t=(gap_ticks_cp, gap_labels_cp),
         kl_lim=(-10.66, 0.2), kl_t=kl_ticks_cp, rate_lim=(-0.05, 7.36), rate_t=rate_ticks_0_7, zero=False, legend=True),
    dict(x=steps_500k, long=False,
         ret=[(dqn_ret_asc, dqn_ret_asc_sd, C_ASC), (dqn_ret_grasp, dqn_ret_grasp_sd, C_GRASP)],
         qr=[(dqn_ret_qr4, dqn_ret_qr4_sd, C_QR4), (dqn_ret_qr8, dqn_ret_qr_sd, C_QR8), (dqn_ret_qr16, dqn_ret_qr_sd, C_QR16)],
         clone=[(dqn_clone_asc, dqn_clone_asc_sd, C_ASC), (dqn_clone_grasp, dqn_clone_grasp_sd, C_GRASP)],
         gap=[(dqn_gap_asc, dqn_gap_asc_sd, C_ASC), (dqn_gap_grasp, dqn_gap_grasp_sd, C_GRASP)],
         kl=[(dqn_kl_asc, dqn_kl_asc_r, C_ASC), (dqn_kl_grasp, dqn_kl_grasp_r, C_GRASP)],
         rate=(dqn_rate_grasp, dqn_rate_grasp_r), levels=dqn_rate_levels,
         ret_lim=(0, 580), ret_t=(ret_ticks_cp, ret_labels_cp), gap_lim=(-120, 120), gap_t=(gap_ticks_cp, gap_labels_cp),
         kl_lim=(-10.75, 0.27), kl_t=kl_ticks_cp, rate_lim=(-0.26, 7.31), rate_t=rate_ticks_0_7, zero=False, legend=False),
    dict(x=steps_500k, long=False,
         ret=[(sq_ret_asc, sq_ret_asc_sd, C_ASC), (sq_ret_grasp, sq_ret_grasp_sd, C_GRASP)],
         qr=[(sq_ret_qr4, sq_ret_qr4_sd, C_QR4), (sq_ret_qr8, sq_ret_qr_sd, C_QR8), (sq_ret_qr16, sq_ret_qr_sd, C_QR16)],
         clone=[(sq_clone_asc, sq_clone_asc_sd, C_ASC), (sq_clone_grasp, sq_clone_grasp_sd, C_GRASP)],
         gap=[(sq_gap_asc, sq_gap_asc_sd, C_ASC), (sq_gap_grasp, sq_gap_grasp_sd, C_GRASP)],
         kl=[(sq_kl_asc, sq_kl_asc_r, C_ASC), (sq_kl_grasp, sq_kl_grasp_r, C_GRASP)],
         rate=(sq_rate_grasp, sq_rate_grasp_r), levels=sq_rate_levels,
         ret_lim=(0, 580), ret_t=(ret_ticks_cp, ret_labels_cp), gap_lim=(-120, 120), gap_t=(gap_ticks_cp, gap_labels_cp),
         kl_lim=(-10.77, 0.34), kl_t=kl_ticks_cp, rate_lim=(-0.97, 7.38), rate_t=rate_ticks_even, zero=False, legend=False),
    dict(x=steps_500k, long=False,
         ret=[(pend_ret_asc, pend_ret_asc_sd, C_ASC), (pend_ret_grasp, pend_ret_grasp_sd, C_GRASP)],
         qr=[(pend_ret_qr4, pend_ret_qr4_sd, C_QR4), (pend_ret_qr8, pend_ret_qr_sd, C_QR8), (pend_ret_qr16, pend_ret_qr_sd, C_QR16)],
         clone=[(pend_clone_asc, pend_clone_asc_sd, C_ASC), (pend_clone_grasp, pend_clone_grasp_sd, C_GRASP)],
         gap=[(pend_gap_asc, pend_gap_asc_sd, C_ASC), (pend_gap_grasp, pend_gap_grasp_sd, C_GRASP)],
         kl=[(pend_kl_asc, pend_kl_asc_r, C_ASC), (pend_kl_grasp, pend_kl_grasp_r, C_GRASP)],
         rate=(pend_rate_grasp, pend_rate_grasp_r), levels=pend_rate_levels,
         ret_lim=(-1385, -55), ret_t=(ret_ticks_pend, ret_labels_pend), gap_lim=(-88, 716), gap_t=(gap_ticks_pend, gap_labels_pend),
         kl_lim=(-8.66, 4.6), kl_t=kl_ticks_pend, rate_lim=(0.56, 6.2), rate_t=rate_ticks_pend, zero=False, legend=True),
    dict(x=steps_500k, long=False,
         ret=[(ddpg_ret_asc, ddpg_ret_asc_sd, C_ASC), (ddpg_ret_grasp, ddpg_ret_grasp_sd, C_GRASP)],
         qr=[(ddpg_ret_qr4, ddpg_ret_qr4_sd, C_QR4), (ddpg_ret_qr8, ddpg_ret_qr_sd, C_QR8), (ddpg_ret_qr16, ddpg_ret_qr_sd, C_QR16)],
         clone=[(ddpg_clone_asc, ddpg_clone_asc_sd, C_ASC), (ddpg_clone_grasp, ddpg_clone_grasp_sd, C_GRASP)],
         gap=[(ddpg_gap_asc, ddpg_gap_asc_sd, C_ASC), (ddpg_gap_grasp, ddpg_gap_grasp_sd, C_GRASP)],
         kl=[(ddpg_kl_asc, ddpg_kl_asc_r, C_ASC), (ddpg_kl_grasp, ddpg_kl_grasp_r, C_GRASP)],
         rate=(ddpg_rate_grasp, ddpg_rate_grasp_r), levels=ddpg_rate_levels,
         ret_lim=(-1385, -52), ret_t=(ret_ticks_pend, ret_labels_pend), gap_lim=(-87, 718), gap_t=(gap_ticks_pend, gap_labels_pend),
         kl_lim=(-8.7, 4.63), kl_t=kl_ticks_pend, rate_lim=(-1.55, 6.33), rate_t=rate_ticks_ddpg, zero=False, legend=False),
    dict(x=steps_1m, long=True,
         ret=[(lunar_ret_asc, lunar_ret_asc_sd, C_ASC), (lunar_ret_grasp, lunar_ret_grasp_sd, C_GRASP)],
         qr=[(lunar_ret_qr4, lunar_ret_qr4_sd, C_QR4), (lunar_ret_qr8, lunar_ret_qr_sd, C_QR8), (lunar_ret_qr16, lunar_ret_qr_sd, C_QR16)],
         clone=[(lunar_clone_asc, lunar_clone_asc_sd, C_ASC), (lunar_clone_grasp, lunar_clone_grasp_sd, C_GRASP)],
         gap=[(lunar_gap_asc, lunar_gap_asc_sd, C_ASC), (lunar_gap_grasp, lunar_gap_grasp_sd, C_GRASP)],
         kl=[(lunar_kl_asc, lunar_kl_asc_r, C_ASC), (lunar_kl_grasp, lunar_kl_grasp_r, C_GRASP)],
         rate=(lunar_rate_grasp, lunar_rate_grasp_r), levels=lunar_rate_levels,
         ret_lim=(-150, 255), ret_t=(ret_ticks_lunar, ret_labels_lunar), gap_lim=(-35, 98), gap_t=(gap_ticks_lunar, gap_labels_lunar),
         kl_lim=(-9.31, 0.69), kl_t=kl_ticks_lunar, rate_lim=(-0.17, 7.27), rate_t=rate_ticks_0_7, zero=True, legend=False),
    dict(x=steps_1m, long=True,
         ret=[(hcppo_ret_asc, hcppo_ret_asc_sd, C_ASC), (hcppo_ret_grasp, hcppo_ret_grasp_sd, C_GRASP)],
         qr=[(hcppo_ret_qr4, hcppo_ret_qr4_sd, C_QR4), (hcppo_ret_qr8, hcppo_ret_qr_sd, C_QR8), (hcppo_ret_qr16, hcppo_ret_qr_sd, C_QR16)],
         clone=[(hcppo_clone_asc, hcppo_clone_asc_sd, C_ASC), (hcppo_clone_grasp, hcppo_clone_grasp_sd, C_GRASP)],
         gap=[(hcppo_gap_asc, hcppo_gap_asc_sd, C_ASC), (hcppo_gap_grasp, hcppo_gap_grasp_sd, C_GRASP)],
         kl=[(hcppo_kl_asc, hcppo_kl_asc_r, C_ASC), (hcppo_kl_grasp, hcppo_kl_grasp_r, C_GRASP)],
         rate=(hcppo_rate_grasp, hcppo_rate_grasp_r), levels=hcppo_rate_levels,
         ret_lim=(-488, 1411), ret_t=(ret_ticks_hcppo, ret_labels_hcppo), gap_lim=(-24, 149), gap_t=(gap_ticks_hcppo, gap_labels_hcppo),
         kl_lim=(-5.52, -1.48), kl_t=kl_ticks_hcppo, rate_lim=(0.35, 10.23), rate_t=rate_ticks_hc, zero=True, legend=True),
    dict(x=steps_1m, long=True,
         ret=[(hcddpg_ret_asc, hcddpg_ret_asc_sd, C_ASC), (hcddpg_ret_grasp, hcddpg_ret_grasp_sd, C_GRASP)],
         qr=[(hcddpg_ret_qr4, hcddpg_ret_qr4_sd, C_QR4), (hcddpg_ret_qr8, hcddpg_ret_qr_sd, C_QR8), (hcddpg_ret_qr16, hcddpg_ret_qr_sd, C_QR16)],
         clone=[(hcddpg_clone_asc, hcddpg_clone_asc_sd, C_ASC), (hcddpg_clone_grasp, hcddpg_clone_grasp_sd, C_GRASP)],
         gap=[(hcddpg_gap_asc, hcddpg_gap_asc_sd, C_ASC), (hcddpg_gap_grasp, hcddpg_gap_grasp_sd, C_GRASP)],
         kl=[(hcddpg_kl_asc, hcddpg_kl_asc_r, C_ASC), (hcddpg_kl_grasp, hcddpg_kl_grasp_r, C_GRASP)],
         rate=(hcddpg_rate_grasp, hcddpg_rate_grasp_r), levels=hcddpg_rate_levels,
         ret_lim=(-925, 6480), ret_t=(ret_ticks_hcddpg, ret_labels_hcddpg), gap_lim=(-955, 2495), gap_t=(gap_ticks_hcddpg, gap_labels_hcddpg),
         kl_lim=(0.03, 7.75), kl_t=kl_ticks_hcddpg, rate_lim=(0.36, 10.16), rate_t=rate_ticks_hc, zero=True, legend=False),
]


def style(ax, row):
    ax.grid(True, color='#d6d6d6', lw=0.8)
    ax.set_axisbelow(True)
    for sp in ax.spines.values():
        sp.set_color('#333333')
        sp.set_linewidth(1.0)
    ax.tick_params(labelsize=6.3, length=2, width=0.6, pad=1.5)
    if row['long']:
        ax.set_xticks(xticks_1m, xlabels_1m)
        ax.set_xlim(0, 1_000_000)
    else:
        ax.set_xticks(xticks_500k, xlabels_500k)
        ax.set_xlim(0, 500_000)


def lin_panel(ax, x, series, qr=()):
    for m, sd, c in qr:
        m, sd = np.asarray(m, float), np.asarray(sd, float)
        ax.fill_between(x, m - sd, m + sd, color=c, alpha=0.08, lw=0, zorder=1.55)
        ax.plot(x, m, color=c, lw=1.5, zorder=1.6)
    for m, sd, c in series:
        m, sd = np.asarray(m, float), np.asarray(sd, float)
        ax.fill_between(x, m - sd, m + sd, color=c, alpha=0.2, lw=0, zorder=2)
    for m, sd, c in series:
        ax.plot(x, m, color=c, lw=1.5, zorder=3)


def log_panel(ax, x, series):
    ax.set_yscale('log', base=2)
    for e, r, c in series:
        m, r = 2.0 ** np.asarray(e, float), np.asarray(r, float)
        lo = np.clip(m * (1 - r), 1e-9, None)
        ax.fill_between(x, lo, m * (1 + r), color=c, alpha=0.2, lw=0, zorder=2)
    for e, r, c in series:
        ax.plot(x, 2.0 ** np.asarray(e, float), color=c, lw=1.5, zorder=3)


def log_ticks(ax, lim, ticks):
    ax.set_ylim(2.0 ** lim[0], 2.0 ** lim[1])
    ax.set_yticks([2.0 ** t for t in ticks], [f'$2^{{{t}}}$' for t in ticks])
    ax.yaxis.set_minor_locator(NullLocator())


plt.rcParams['font.family'] = 'DejaVu Sans'
fig = plt.figure(figsize=(W / 100, H / 100), dpi=100)
fig.add_artist(Line2D([0, 1], [1 - 7 / H, 1 - 7 / H], color='black', lw=0.8))

for i, row in enumerate(rows):
    axes = []
    for j in range(5):
        ax = fig.add_axes([col_left[j] / W, 1 - (row_top[i] + AX_H) / H, AX_W / W, AX_H / H])
        style(ax, row)
        axes.append(ax)
    a_ret, a_cl, a_gap, a_kl, a_rate = axes
    x = row['x']

    lin_panel(a_ret, x, row['ret'], row['qr'])
    lin_panel(a_cl, x, row['clone'])
    lin_panel(a_gap, x, row['gap'])
    for a in (a_ret, a_cl):
        a.set_ylim(*row['ret_lim'])
        a.set_yticks(*row['ret_t'])
        if row['zero']:
            a.axhline(0, color='#444444', lw=1.1, zorder=1.7)
    a_gap.set_ylim(*row['gap_lim'])
    a_gap.set_yticks(*row['gap_t'])
    a_gap.axhline(0, color='black', lw=0.9, zorder=1.7)

    log_panel(a_kl, x, row['kl'])
    log_ticks(a_kl, row['kl_lim'], row['kl_t'])

    # rate: constant rates + GRASP
    a_rate.set_yscale('log', base=2)
    asc_l, fr_l, q16_l, q8_l, q4_l = row['levels']
    a_rate.axhline(2.0 ** asc_l, color='black', lw=1.6, alpha=0.85, zorder=1.6)
    a_rate.axhline(2.0 ** fr_l, color='#222222', lw=1.6, ls='--', alpha=0.85, zorder=1.6)
    a_rate.axhline(2.0 ** q16_l, color=C_QR16, lw=1.6, zorder=1.6)
    a_rate.axhline(2.0 ** q8_l, color=C_QR8, lw=1.6, zorder=1.6)
    a_rate.axhline(2.0 ** q4_l, color=C_QR4, lw=1.6, zorder=1.6)
    log_panel(a_rate, x, [(row['rate'][0], row['rate'][1], C_GRASP)])
    log_ticks(a_rate, row['rate_lim'], row['rate_t'])

    a_ret.set_ylabel(env_names[i], fontsize=9.5, labelpad=2)

    if i == 0:
        for a, t in zip(axes, col_titles):
            a.set_title(t, fontsize=8, pad=2)
    if i == len(rows) - 1:
        for a in axes:
            a.set_xlabel('steps', fontsize=6.8, labelpad=0)

    if row['legend']:
        handles = [Line2D([], [], color='black', lw=1.6),
                   Line2D([], [], color='black', lw=1.6, ls='--'),
                   Line2D([], [], color=C_GRASP, lw=1.6),
                   Line2D([], [], color=C_QR16, lw=1.6),
                   Line2D([], [], color=C_QR8, lw=1.6),
                   Line2D([], [], color=C_QR4, lw=1.6)]
        a_rate.legend(handles, methods, loc='center right', fontsize=6.3, handlelength=2.4,
                      labelspacing=0.35, borderpad=0.4, framealpha=0.85, edgecolor='#cccccc',
                      fancybox=True)

fig.savefig('out.png', dpi=100)
